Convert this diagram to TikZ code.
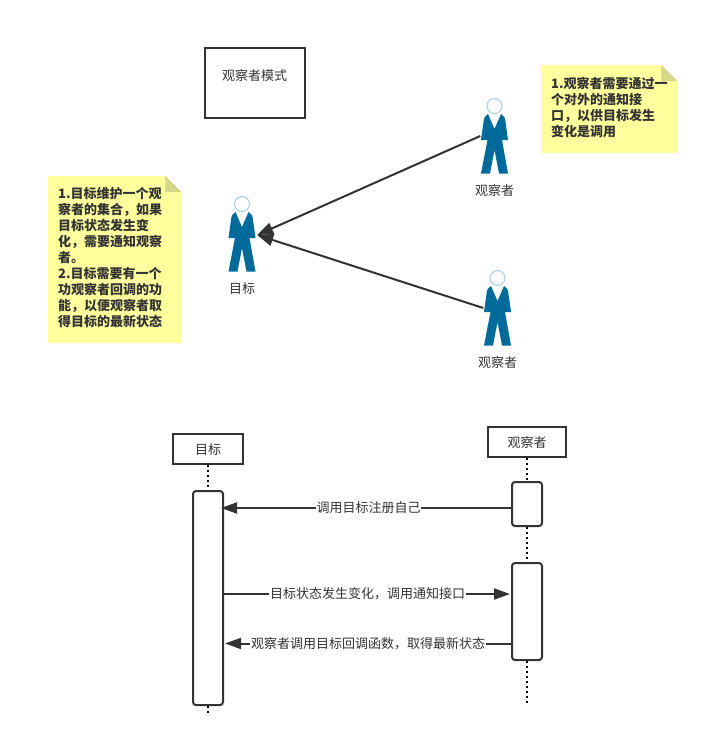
\documentclass[tikz,border=0pt]{standalone}
\usepackage{fontspec}
\setmainfont{Noto Sans CJK SC}
\usetikzlibrary{arrows.meta}
\definecolor{ink}{HTML}{333333}
\definecolor{noteyellow}{HTML}{FFFF9E}
\definecolor{notefold}{HTML}{D6D68A}
\definecolor{suit}{HTML}{006A9B}
\definecolor{headline}{HTML}{A6CEE3}
\tikzset{
  px/.style={x=1pt,y=-1pt},
  label/.style={font=\fontsize{13}{16}\selectfont,text=ink,inner sep=1pt},
  box/.style={draw=ink,line width=2pt,fill=white,inner sep=0pt,font=\fontsize{13}{16}\selectfont,text=ink},
  act/.style={draw=ink,line width=2pt,fill=white,rounded corners=3pt,inner sep=0pt},
  person/.style={inner sep=0pt,minimum width=29pt,minimum height=74pt},
  notebox/.style={fill=noteyellow,inner sep=0pt,anchor=north west},
  notetext/.style={anchor=north west,align=left,inner sep=0pt,font=\fontsize{13}{16}\selectfont\bfseries,text=ink},
  msg/.style={draw=ink,line width=2pt},
  msgarrow/.style={msg,-{Triangle[length=16pt,width=11pt]}},
  bigarrow/.style={draw=ink,line width=2pt,-{Triangle[length=16pt,width=12pt]}},
  life/.style={draw=black,line width=2pt,dash pattern=on 2pt off 3pt},
  msglabel/.style={label,fill=white,inner sep=0.5pt},
}
\newcommand{\personicon}[1]{%
  \begin{scope}[shift={(#1)}]
    \draw[headline,line width=1pt,fill=white] (-0.5,-31) circle (7.5);
    \fill[suit] (-7,-23) .. controls (-10,-21) and (-11,-20) .. (-11.5,-15)
      -- (-14,3) -- (-7.5,3) -- (-14,36.5) -- (-5,36.5) -- (-0.5,13) -- (4,36.5) -- (13,36.5)
      -- (7,3) -- (13,3) -- (10.5,-15) .. controls (10,-20) and (9,-21) .. (6,-23)
      -- (-0.5,-8) -- cycle;
  \end{scope}}
\begin{document}
\begin{tikzpicture}[px]
\useasboundingbox (0,0) rectangle (709,750);
% title box
\node[box,minimum width=100pt,minimum height=70pt] (title) at (255,83) {};
\node[label] (titletext) at (254.5,76) {观察者模式};
% notes
\node[notebox,minimum width=136pt,minimum height=88pt] (noteR) at (541,65) {};
\fill[white] (noteR.north east) -- ([xshift=-16pt]noteR.north east) -- ([yshift=-16pt]noteR.north east) -- cycle;
\fill[notefold] ([xshift=-16pt]noteR.north east) -- ([xshift=-16pt,yshift=-16pt]noteR.north east) -- ([yshift=-16pt]noteR.north east) -- cycle;
\node[notetext] (noteRtext) at (551,77) {1.观察者需要通过一\\个对外的通知接\\口，以供目标发生\\变化是调用};
\node[notebox,minimum width=133pt,minimum height=167pt] (noteL) at (48,176) {};
\fill[white] (noteL.north east) -- ([xshift=-16pt]noteL.north east) -- ([yshift=-16pt]noteL.north east) -- cycle;
\fill[notefold] ([xshift=-16pt]noteL.north east) -- ([xshift=-16pt,yshift=-16pt]noteL.north east) -- ([yshift=-16pt]noteL.north east) -- cycle;
\node[notetext] (noteLtext) at (58,187.5) {1.目标维护一个观\\察者的集合，如果\\目标状态发生变\\化，需要通知观察\\者。\\2.目标需要有一个\\功观察者回调的功\\能，以便观察者取\\得目标的最新状态};
% persons
\node[person] (target) at (242.5,235) {};
\node[person] (obsA) at (495,136) {};
\node[person] (obsB) at (498,308) {};
\personicon{242.5,235}
\personicon{495,137}
\personicon{498,309}
\node[label] (targetname) at (242,289) {目标};
\node[label] (obsAname) at (494.5,191) {观察者};
\node[label] (obsBname) at (497.5,363) {观察者};
\draw[bigarrow] (obsA.west) -- (target.east);
\draw[bigarrow] (obsB.west) -- (target.east);
% sequence
\node[box,minimum width=70pt,minimum height=30pt] (seqT) at (208,449) {};
\node[label] (seqTtext) at (208,450) {目标};
\node[box,minimum width=78pt,minimum height=30pt] (seqO) at (527,442) {};
\node[label] (seqOtext) at (527,443) {观察者};
\node[act,minimum width=30pt,minimum height=214pt] (actT) at (208,598) {};
\node[act,minimum width=30pt,minimum height=44pt] (actA) at (527,504) {};
\node[act,minimum width=30pt,minimum height=97pt] (actB) at (527,611.5) {};
\coordinate (endT) at (208,716);
\coordinate (endO) at (527,704);
\draw[life] (seqT.south) -- (actT.north);
\draw[life] (actT.south) -- (endT);
\draw[life] (seqO.south) -- (actA.north);
\draw[life] (actA.south) -- (actB.north);
\draw[life] (actB.south) -- (endO);
\node[msglabel] (m1) at (368.5,508) {调用目标注册自己};
\node[msglabel] (m2) at (367.5,594) {目标状态发生变化，调用通知接口};
\node[msglabel] (m3) at (368,643.5) {观察者调用目标回调函数，取得最新状态};
\draw[msg] (actA.west |- m1) -- (m1.east);
\draw[msgarrow] (m1.west) -- ([xshift=-3pt]actT.east |- m1);
\draw[msg] (actT.east |- m2) -- (m2.west);
\draw[msgarrow] (m2.east) -- ([xshift=-1pt]actB.west |- m2);
\draw[msg] (actB.west |- m3) -- (m3.east);
\draw[msgarrow] (m3.west) -- ([xshift=1pt]actT.east |- m3);
\end{tikzpicture}
\end{document}
